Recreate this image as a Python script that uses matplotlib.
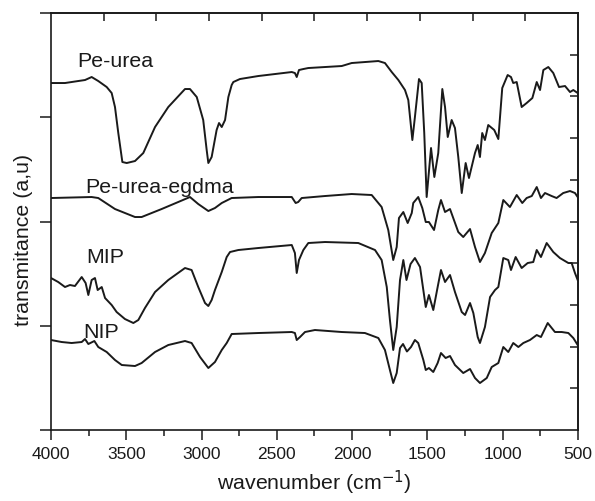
import matplotlib
matplotlib.use("Agg")
import matplotlib.pyplot as plt
import numpy as np

plt.rcParams["font.family"] = ["Liberation Sans", "DejaVu Sans"]
plt.rcParams["mathtext.fontset"] = "custom"
plt.rcParams["mathtext.rm"] = "Liberation Sans"
plt.rcParams["mathtext.it"] = "Liberation Sans"

# wavenumber (cm^-1) and transmittance (arbitrary units)
pe_urea_wn = [4000, 3907, 3819, 3774, 3730, 3686, 3630, 3597, 3575, 3553, 3526, 3497,
              3442, 3387, 3309, 3221, 3110, 3077, 3032, 2989, 2966, 2955, 2933, 2900,
              2884, 2866, 2844, 2822, 2800, 2789, 2745, 2623, 2401, 2380, 2368, 2353,
              2324, 2291, 2069, 2003, 1826, 1782, 1737, 1693, 1649, 1627, 1600, 1583,
              1556, 1538, 1521, 1505, 1476, 1454, 1428, 1401, 1383, 1365, 1339, 1317,
              1295, 1272, 1246, 1224, 1184, 1166, 1151, 1136, 1118, 1096, 1056, 1029,
              1003, 967, 945, 930, 907, 874, 841, 803, 774, 752, 730, 697, 664, 626,
              586, 553, 531, 502]
pe_urea_t = [347, 347, 349, 350, 353, 349, 343, 337, 323, 297, 268, 267,
             269, 277, 303, 323, 341, 341, 333, 310, 280, 267, 273, 300,
             307, 303, 310, 333, 345, 348, 351, 354, 358, 357, 353, 360,
             361, 362, 364, 367, 369, 367, 358, 350, 340, 330, 290, 313,
             351, 347, 297, 233, 282, 253, 277, 341, 323, 293, 310, 302,
             273, 237, 267, 252, 277, 285, 273, 297, 290, 305, 300, 291,
             342, 355, 353, 347, 348, 323, 327, 332, 348, 340, 360, 363, 357, 343,
             344, 338, 340, 337]

egdma_wn = [4000, 3730, 3686, 3575, 3442, 3398, 3265, 3155, 3077, 3022, 2955, 2911,
            2866, 2800, 2623, 2401, 2375, 2358, 2335, 2180, 2003, 1870, 1804, 1760,
            1727, 1704, 1689, 1660, 1631, 1604, 1594, 1561, 1534, 1511, 1490, 1456,
            1428, 1410, 1383, 1350, 1295, 1262, 1217, 1184, 1151, 1118, 1073, 1029,
            996, 952, 907, 870, 841, 807, 774, 746, 719, 675, 642, 598, 553, 520, 502]
egdma_t = [232, 233, 232, 221, 213, 213, 221, 228, 233, 226, 219, 222,
           227, 232, 233, 233, 227, 228, 232, 234, 236, 235, 223, 200,
           170, 183, 212, 218, 207, 217, 227, 233, 222, 208, 208, 200,
           220, 230, 218, 221, 198, 193, 201, 183, 168, 177, 197, 207,
           230, 223, 235, 227, 232, 234, 243, 232, 237, 234, 232, 237, 239, 237, 233]

mip_wn = [4000, 3952, 3907, 3874, 3841, 3796, 3770, 3752, 3730, 3708, 3690, 3663,
          3641, 3597, 3564, 3509, 3453, 3420, 3376, 3309, 3221, 3110, 3066, 3022,
          2977, 2955, 2933, 2911, 2866, 2833, 2811, 2756, 2623, 2401, 2380, 2368,
          2353, 2324, 2291, 2180, 1959, 1848, 1804, 1770, 1749, 1727, 1704, 1682,
          1660, 1639, 1612, 1583, 1549, 1511, 1490, 1461, 1432, 1410, 1383, 1350,
          1317, 1272, 1250, 1217, 1195, 1166, 1151, 1118, 1084, 1051, 1029, 996,
          963, 945, 914, 874, 834, 797, 774, 746, 708, 664, 620, 564, 542, 520, 502]
mip_t = [152, 148, 143, 145, 144, 153, 147, 135, 150, 152, 140, 143,
         132, 125, 118, 111, 107, 110, 122, 138, 150, 162, 160, 143,
         127, 124, 130, 140, 158, 173, 178, 180, 182, 185, 177, 157,
         170, 180, 187, 188, 187, 180, 170, 143, 110, 80, 103, 150,
         170, 150, 166, 172, 163, 123, 135, 120, 143, 160, 148, 155,
         138, 118, 115, 127, 117, 93, 87, 103, 133, 140, 143, 172,
         170, 160, 173, 162, 167, 168, 180, 173, 187, 178, 172, 167, 167, 157, 150]

nip_wn = [4000, 3929, 3863, 3796, 3774, 3752, 3712, 3686, 3630, 3575, 3530, 3442,
          3398, 3309, 3221, 3110, 3066, 3010, 2955, 2911, 2866, 2833, 2800, 2623,
          2401, 2380, 2368, 2346, 2313, 2247, 2069, 1915, 1826, 1782, 1749, 1727,
          1704, 1682, 1662, 1636, 1609, 1583, 1561, 1527, 1511, 1490, 1461, 1432,
          1410, 1379, 1350, 1317, 1262, 1217, 1184, 1151, 1106, 1073, 1029, 996,
          963, 930, 896, 863, 819, 774, 746, 701, 653, 608, 564, 531, 502]
nip_t = [90, 88, 87, 88, 91, 86, 89, 83, 78, 70, 65, 64,
         67, 78, 85, 89, 87, 73, 62, 68, 80, 87, 96, 97,
         98, 97, 90, 93, 98, 100, 98, 97, 92, 80, 60, 47,
         57, 82, 86, 78.5, 83, 90, 87, 70, 60, 62, 58, 67,
         77, 72, 74, 65, 57, 61, 52, 47, 52, 63, 67, 83,
         78, 87, 83, 87, 90, 95, 93, 107, 98, 98, 97, 92, 85]

labels = ["Pe-urea", "Pe-urea-egdma", "MIP", "NIP"]
label_wn = [3827, 3774, 3768, 3787]
label_t = [363, 237, 167, 92]

fig = plt.figure(figsize=(5.95, 5.01), dpi=100)
ax = fig.add_axes([0.0857, 0.1417, 0.8857, 0.8323])

line_kw = dict(color="#1a1a1a", lw=1.4, solid_joinstyle="round")
ax.plot(pe_urea_wn, pe_urea_t, **line_kw)
ax.plot(egdma_wn, egdma_t, **line_kw)
ax.plot(mip_wn, mip_t, **line_kw)
ax.plot(nip_wn, nip_t, **line_kw)

for name, x, y in zip(labels, label_wn, label_t):
    ax.text(x, y, name, fontsize=15.4, ha="left", va="baseline", color="#1a1a1a")

ax.set_xlim(4000, 500)
ax.set_ylim(0, 417)

# bottom axis
ax.set_xticks(np.arange(4000, 499, -500))
ax.set_xticks(np.arange(3750, 500, -500), minor=True)
ax.tick_params(axis="x", which="major", direction="out", length=7, width=1.1,
               labelsize=12.5, pad=5, colors="#1a1a1a")
ax.tick_params(axis="x", which="minor", direction="out", length=4, width=1.1,
               colors="#1a1a1a")

# left axis: unlabeled ticks
ax.set_yticks(np.linspace(0, 417, 5))
ax.set_yticklabels([])
ax.tick_params(axis="y", direction="out", length=8, width=1.1, colors="#1a1a1a")

# top and right: inward ticks on their own spacing
top = ax.secondary_xaxis("top")
top.set_xticks(np.linspace(4000, 500, 11)[1:-1])
top.set_xticklabels([])
top.tick_params(direction="in", length=6, width=1.1, colors="#1a1a1a")

right = ax.secondary_yaxis("right")
right.set_yticks(np.linspace(0, 417, 11)[1:-1])
right.set_yticklabels([])
right.tick_params(direction="in", length=6, width=1.1, colors="#1a1a1a")

for sp in list(ax.spines.values()) + [top.spines["top"], right.spines["right"]]:
    sp.set_linewidth(1.2)
    sp.set_color("#1a1a1a")

ax.set_xlabel("wavenumber (cm$^{\\mathsf{-1}}$)", fontsize=15.4, color="#1a1a1a",
              labelpad=5)
ax.set_ylabel("transmitance (a,u)", fontsize=15.4, color="#1a1a1a")
ax.yaxis.set_label_coords(-0.034, 0.456)

fig.savefig("out.png", dpi=100)
